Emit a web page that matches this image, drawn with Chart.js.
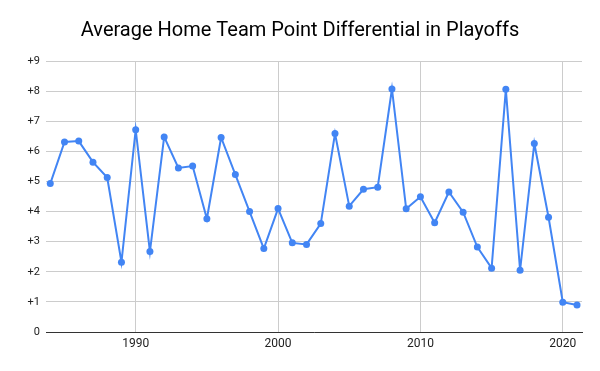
<!DOCTYPE html>
<html>
<head>
<meta charset="utf-8">
<script src="https://cdn.jsdelivr.net/npm/chart.js@4"></script>
<style>
  html, body { margin: 0; padding: 0; background: #fff; }
  #wrap { width: 600px; height: 371px; }
</style>
</head>
<body>
<div id="wrap"><canvas id="diffChart" width="600" height="371"></canvas></div>
<script>
const years = [1984, 1985, 1986, 1987, 1988, 1989, 1990, 1991, 1992, 1993,
  1994, 1995, 1996, 1997, 1998, 1999, 2000, 2001, 2002, 2003,
  2004, 2005, 2006, 2007, 2008, 2009, 2010, 2011, 2012, 2013,
  2014, 2015, 2016, 2017, 2018, 2019, 2020, 2021];
const differential = [4.93, 6.31, 6.34, 5.64, 5.13, 2.32, 6.72, 2.67, 6.48, 5.45,
  5.51, 3.76, 6.46, 5.23, 4.0, 2.77, 4.10, 2.96, 2.91, 3.60,
  6.59, 4.18, 4.74, 4.81, 8.07, 4.09, 4.49, 3.63, 4.65, 3.98,
  2.82, 2.12, 8.06, 2.05, 6.26, 3.81, 0.99, 0.90];
const xTicks = [1990, 2000, 2010, 2020];
const yTicks = [0, 1, 2, 3, 4, 5, 6, 7, 8, 9];

const points = years.map((y, i) => ({ x: y, y: differential[i] }));
const blue = '#4285F4';

new Chart(document.getElementById('diffChart'), {
  type: 'line',
  data: {
    datasets: [{
      label: 'Differential',
      data: points,
      borderColor: blue,
      backgroundColor: blue,
      borderWidth: 2,
      pointRadius: 3.5,
      pointBorderWidth: 0,
      tension: 0,
      fill: false
    }]
  },
  options: {
    responsive: false,
    animation: false,
    layout: { padding: 0 },
    plugins: {
      legend: { display: false },
      tooltip: { enabled: false },
      title: {
        display: true,
        text: 'Average Home Team Point Differential in Playoffs',
        color: '#000',
        font: { family: 'Roboto, Arial, sans-serif', size: 20, weight: 'normal', lineHeight: 1.2 },
        padding: { top: 19, bottom: 18 }
      }
    },
    scales: {
      x: {
        type: 'linear',
        min: 1983.7,
        max: 2021.35,
        afterBuildTicks: (scale) => { scale.ticks = xTicks.map(v => ({ value: v })); },
        afterFit: (scale) => { scale.height = 39; },
        ticks: {
          color: '#222',
          font: { family: 'Roboto, Arial, sans-serif', size: 12 },
          padding: 5,
          maxRotation: 0,
          callback: (v) => String(v)
        },
        grid: { color: '#cccccc', drawTicks: false },
        border: { display: true, color: '#333333', width: 1 }
      },
      y: {
        min: 0,
        max: 9,
        afterBuildTicks: (scale) => { scale.ticks = yTicks.map(v => ({ value: v })); },
        afterFit: (scale) => { scale.width = 46; },
        ticks: {
          color: '#222',
          font: { family: 'Roboto, Arial, sans-serif', size: 11 },
          padding: 6,
          callback: (v) => v === 0 ? '0' : '+' + v
        },
        grid: { color: '#cccccc', drawTicks: false },
        border: { display: false }
      },
      // empty right-hand gutter so the title centres on the whole canvas
      gutter: {
        type: 'linear',
        position: 'right',
        min: 0,
        max: 9,
        afterFit: (scale) => { scale.width = 18; },
        ticks: { display: false },
        grid: { display: false, drawTicks: false },
        border: { display: false }
      }
    }
  }
});
</script>
</body>
</html>
